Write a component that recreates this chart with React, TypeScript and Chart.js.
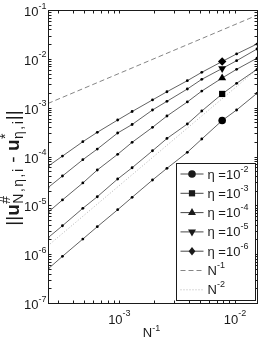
import React, { useEffect, useRef } from "react";
import { Chart, registerables } from "chart.js";

Chart.register(...registerables);

// ---------- data ----------
const N_VALUES = [4096, 3072, 2048, 1536, 1024, 768, 512, 384, 256, 192, 128, 96, 64];
const ERR_ETA_1E2 = [4.96e-7, 9.04e-7, 2.04e-6, 3.65e-6, 8.13e-6, 1.46e-5, 3.3e-5, 5.73e-5, 1.22e-4, 2.28e-4, 5.46e-4, 8.96e-4, 1.97e-3];
const ERR_ETA_1E3 = [2.17e-6, 3.82e-6, 8.69e-6, 1.5e-5, 3.46e-5, 5.89e-5, 1.31e-4, 2.34e-4, 4.63e-4, 8.54e-4, 1.91e-3, 3.15e-3, 6.1e-3];
const ERR_ETA_1E4 = [7.2e-6, 1.29e-5, 2.87e-5, 5.29e-5, 1.11e-4, 1.95e-4, 3.96e-4, 6.75e-4, 1.31e-3, 2.19e-3, 4.05e-3, 6.1e-3, 1.03e-2];
const ERR_ETA_1E5 = [2.3e-5, 3.99e-5, 8.6e-5, 1.42e-4, 3.03e-4, 4.52e-4, 8.96e-4, 1.35e-3, 2.41e-3, 3.81e-3, 6.34e-3, 9.16e-3, 1.59e-2];
const ERR_ETA_1E6 = [6.3e-5, 1.02e-4, 2.01e-4, 3.13e-4, 5.59e-4, 8.34e-4, 1.44e-3, 2.12e-3, 3.57e-3, 5.3e-3, 8.82e-3, 1.26e-2, 2.01e-2];
const ETA_EXPONENTS = ["-2", "-3", "-4", "-5", "-6"];
const MARKER_N = 128;

const REF_N = [4096, 64];
const REF_ORDER1 = [1.22e-3, 7.8e-2];
const REF_ORDER2 = [1.49e-6, 6.1e-3];
const REF_EXPONENTS = ["-1", "-2"];

const X_MIN_N = 4096;
const X_MAX_N = 64;
const Y_MIN = 1e-7;
const Y_MAX = 1e-1;
const X_TICK_EXPONENTS = [-3, -2];
const Y_TICK_EXPONENTS = [-7, -6, -5, -4, -3, -2, -1];

const FONT = '"Liberation Sans", Arial, Helvetica, sans-serif';

type SeriesStyle = { data: number[]; exp: string; shape: string; rot: number; r: number };
const SERIES: SeriesStyle[] = [
  { data: ERR_ETA_1E2, exp: ETA_EXPONENTS[0], shape: "circle", rot: 0, r: 3.8 },
  { data: ERR_ETA_1E3, exp: ETA_EXPONENTS[1], shape: "rect", rot: 0, r: 4.4 },
  { data: ERR_ETA_1E4, exp: ETA_EXPONENTS[2], shape: "triangle", rot: 0, r: 4.6 },
  { data: ERR_ETA_1E5, exp: ETA_EXPONENTS[3], shape: "triangle", rot: 180, r: 4.6 },
  { data: ERR_ETA_1E6, exp: ETA_EXPONENTS[4], shape: "rectRot", rot: 0, r: 4.2 },
];

function drawPow(
  ctx: CanvasRenderingContext2D,
  base: string,
  exp: string,
  x: number,
  baseY: number,
  supY: number,
  align: "left" | "right" | "center",
  baseSize = 13,
  supSize = 9
) {
  ctx.font = `${baseSize}px ${FONT}`;
  const bw = ctx.measureText(base).width;
  ctx.font = `${supSize}px ${FONT}`;
  const sw = ctx.measureText(exp).width;
  const total = bw + sw;
  let x0 = x;
  if (align === "right") x0 = x - total;
  if (align === "center") x0 = x - total / 2;
  ctx.textAlign = "left";
  ctx.textBaseline = "alphabetic";
  ctx.font = `${baseSize}px ${FONT}`;
  ctx.fillText(base, x0, baseY);
  ctx.font = `${supSize}px ${FONT}`;
  ctx.fillText(exp, x0 + bw, supY);
}

function drawMarker(ctx: CanvasRenderingContext2D, shape: string, rot: number, r: number, x: number, y: number) {
  ctx.beginPath();
  if (shape === "circle") {
    ctx.arc(x, y, r, 0, Math.PI * 2);
  } else if (shape === "rect") {
    const s = Math.SQRT1_2 * r;
    ctx.rect(x - s, y - s, 2 * s, 2 * s);
  } else if (shape === "triangle") {
    const sgn = rot === 180 ? -1 : 1;
    ctx.moveTo(x, y - sgn * r);
    ctx.lineTo(x - r * 0.866, y + sgn * r * 0.5);
    ctx.lineTo(x + r * 0.866, y + sgn * r * 0.5);
    ctx.closePath();
  } else if (shape === "rectRot") {
    ctx.moveTo(x, y - r);
    ctx.lineTo(x + r * 0.8, y);
    ctx.lineTo(x, y + r);
    ctx.lineTo(x - r * 0.8, y);
    ctx.closePath();
  }
  ctx.fill();
}

const decorPlugin = {
  id: "decor",
  afterDatasetsDraw(chart: any) {
    const ctx: CanvasRenderingContext2D = chart.ctx;
    const { left, right, top, bottom } = chart.chartArea;
    const xs = chart.scales.x;
    const ys = chart.scales.y;
    ctx.save();
    ctx.strokeStyle = "#1a1a1a";
    ctx.fillStyle = "#1a1a1a";
    ctx.lineWidth = 1;
    const L = Math.round(left) + 0.5;
    const R = Math.round(right) + 0.5;
    const T = Math.round(top) + 0.5;
    const B = Math.round(bottom) + 0.5;
    ctx.strokeRect(L, T, R - L, B - T);

    // tick marks (inside, all four sides)
    const tl = 3;
    ctx.beginPath();
    for (let e = -8; e <= 0; e++) {
      for (let m = 1; m <= 9; m++) {
        const v = m * Math.pow(10, e);
        if (v < Y_MIN * 0.999 || v > Y_MAX * 1.001) continue;
        const py = Math.round(ys.getPixelForValue(v)) + 0.5;
        ctx.moveTo(L, py);
        ctx.lineTo(L + tl, py);
        ctx.moveTo(R, py);
        ctx.lineTo(R - tl, py);
      }
    }
    const xmin = 1 / X_MIN_N;
    const xmax = 1 / X_MAX_N;
    for (let e = -5; e <= 0; e++) {
      for (let m = 1; m <= 9; m++) {
        const v = m * Math.pow(10, e);
        if (v < xmin || v > xmax) continue;
        const px = Math.round(xs.getPixelForValue(v)) + 0.5;
        ctx.moveTo(px, B);
        ctx.lineTo(px, B - tl);
        ctx.moveTo(px, T);
        ctx.lineTo(px, T + tl);
      }
    }
    ctx.stroke();

    // tick labels
    ctx.fillStyle = "#1a1a1a";
    for (const e of Y_TICK_EXPONENTS) {
      const py = ys.getPixelForValue(Math.pow(10, e));
      drawPow(ctx, "10", String(e), left - 1.5, py + 6, py - 1.5, "right");
    }
    for (const e of X_TICK_EXPONENTS) {
      const px = xs.getPixelForValue(Math.pow(10, e));
      drawPow(ctx, "10", String(e), px + 0.5, bottom + 20.5, bottom + 13, "center");
    }

    // x title
    drawPow(ctx, "N", "-1", (left + right) / 2 - 1, bottom + 34.3, bottom + 28, "center");

    // y title (rotated)
    const main = `19px ${FONT}`;
    const bold = `bold 19px ${FONT}`;
    const small = `14px ${FONT}`;
    const segs = [
      { t: "||", f: main, sup: "", sub: "", sp: 0 },
      { t: "u", f: bold, sup: "#", sub: "N,η,i", sp: 1.5 },
      { t: " - ", f: main, sup: "", sub: "", sp: 0 },
      { t: "u", f: bold, sup: "*", sub: "η,i", sp: 1.5 },
      { t: "||", f: main, sup: "", sub: "", sp: 0 },
    ];
    let total = 0;
    const widths: number[] = [];
    for (const s of segs) {
      ctx.font = s.f;
      let w = ctx.measureText(s.t).width;
      ctx.font = small;
      const w1 = s.sup ? ctx.measureText(s.sup).width : 0;
      const w2 = s.sub ? ctx.measureText(s.sub).width + s.sp * (s.sub.length - 1) : 0;
      w += Math.max(w1, w2) + (s.sup ? 1.5 : 0);
      widths.push(w);
      total += w;
    }
    ctx.save();
    ctx.translate(19, 168);
    ctx.rotate(-Math.PI / 2);
    ctx.textAlign = "left";
    ctx.textBaseline = "alphabetic";
    let cx = -total / 2;
    segs.forEach((s, i) => {
      ctx.font = s.f;
      ctx.fillText(s.t, cx, 0);
      const tw = ctx.measureText(s.t).width;
      if (s.sup) {
        ctx.font = small;
        ctx.fillText(s.sup, cx + tw + 0.5, -9);
      }
      if (s.sub) {
        ctx.font = small;
        let sx = cx + tw + 0.5;
        for (const ch of s.sub) {
          ctx.fillText(ch, sx, 4);
          sx += ctx.measureText(ch).width + s.sp;
        }
      }
      cx += widths[i];
    });
    ctx.restore();

    // legend
    const lgL = Math.round(right) - 81 + 0.5;
    const lgR = Math.round(right) - 2 + 0.5;
    const lgT = Math.round(top) + 153 + 0.5;
    const lgB = Math.round(bottom) - 3 + 0.5;
    ctx.fillStyle = "#ffffff";
    ctx.fillRect(lgL, lgT, lgR - lgL, lgB - lgT);
    ctx.strokeStyle = "#1a1a1a";
    ctx.lineWidth = 1;
    ctx.strokeRect(lgL, lgT, lgR - lgL, lgB - lgT);
    const rowH = 19.3;
    const lineX0 = lgL + 4;
    const lineX1 = lgL + 27;
    const textX = lgL + 31;
    const entries = SERIES.length + 2;
    for (let i = 0; i < entries; i++) {
      const cy = lgT + 10.5 + i * rowH;
      ctx.save();
      ctx.lineWidth = 0.9;
      if (i < SERIES.length) {
        ctx.strokeStyle = "#333";
        ctx.setLineDash([]);
      } else if (i === SERIES.length) {
        ctx.strokeStyle = "#777";
        ctx.setLineDash([5, 3]);
      } else {
        ctx.strokeStyle = "#aaa";
        ctx.setLineDash([1, 2]);
      }
      ctx.beginPath();
      ctx.moveTo(lineX0, cy);
      ctx.lineTo(lineX1, cy);
      ctx.stroke();
      ctx.restore();
      ctx.fillStyle = "#1a1a1a";
      if (i < SERIES.length) {
        const s = SERIES[i];
        drawMarker(ctx, s.shape, s.rot, s.r, (lineX0 + lineX1) / 2, cy);
        ctx.font = `13px ${FONT}`;
        ctx.textAlign = "left";
        ctx.textBaseline = "alphabetic";
        const pre = "η =";
        ctx.fillText(pre, textX, cy + 4.5);
        const pw = ctx.measureText(pre).width;
        drawPow(ctx, "10", s.exp, textX + pw, cy + 4.5, cy - 2.5, "left");
      } else {
        drawPow(ctx, "N", REF_EXPONENTS[i - SERIES.length], textX, cy + 4.5, cy - 2.5, "left");
      }
    }
    ctx.restore();
  },
};

export default function App() {
  const canvasRef = useRef<HTMLCanvasElement | null>(null);

  useEffect(() => {
    const canvas = canvasRef.current;
    if (!canvas) return;
    const datasets: any[] = SERIES.map((s) => ({
      data: N_VALUES.map((n, i) => ({ x: 1 / n, y: s.data[i] })),
      borderColor: "#3a3a3a",
      borderWidth: 0.8,
      backgroundColor: "#000",
      pointBackgroundColor: "#000",
      pointBorderColor: "#000",
      pointBorderWidth: 0,
      pointRadius: N_VALUES.map((n) => (n === MARKER_N ? s.r : 1.4)),
      pointStyle: N_VALUES.map((n) => (n === MARKER_N ? s.shape : "circle")),
      pointRotation: N_VALUES.map((n) => (n === MARKER_N ? s.rot : 0)),
      tension: 0,
    }));
    datasets.push({
      data: REF_N.map((n, i) => ({ x: 1 / n, y: REF_ORDER1[i] })),
      borderColor: "#777",
      borderWidth: 0.9,
      borderDash: [5, 3],
      pointRadius: 0,
    });
    datasets.push({
      data: REF_N.map((n, i) => ({ x: 1 / n, y: REF_ORDER2[i] })),
      borderColor: "#aaa",
      borderWidth: 0.9,
      borderDash: [1, 2],
      pointRadius: 0,
    });

    const chart = new Chart(canvas, {
      type: "line",
      data: { datasets },
      options: {
        animation: false,
        responsive: false,
        devicePixelRatio: 1,
        layout: { padding: { left: 48, top: 10, right: 9, bottom: 38 } },
        plugins: { legend: { display: false }, tooltip: { enabled: false } },
        scales: {
          x: { type: "logarithmic", min: 1 / X_MIN_N, max: 1 / X_MAX_N, display: false },
          y: { type: "logarithmic", min: Y_MIN, max: Y_MAX, display: false },
        },
      },
      plugins: [decorPlugin],
    } as any);
    return () => chart.destroy();
  }, []);

  return (
    <div style={{ position: "fixed", left: 0, top: 0, width: 266, height: 341, background: "#fff" }}>
      <canvas ref={canvasRef} width={266} height={341} style={{ width: 266, height: 341, display: "block" }} />
    </div>
  );
}
